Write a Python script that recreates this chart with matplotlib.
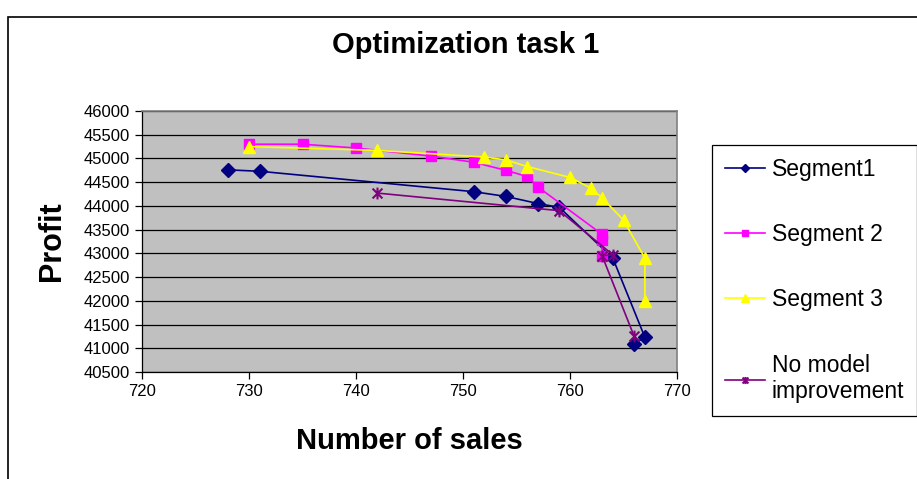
import matplotlib
matplotlib.use("Agg")
import matplotlib.pyplot as plt
from matplotlib.path import Path
from matplotlib.patches import Rectangle
import numpy as np

plt.rcParams["font.family"] = ["Liberation Sans", "DejaVu Sans"]

# data
seg1_x = [728, 731, 751, 754, 757, 759, 764, 767, 766]
seg1_y = [44760, 44730, 44300, 44200, 44050, 43970, 42900, 41230, 41100]

seg2_x = [730, 735, 740, 747, 751, 754, 756, 757, 763, 763, 763]
seg2_y = [45300, 45300, 45220, 45050, 44920, 44750, 44620, 44400, 43400, 43280, 42950]

seg3_x = [730, 742, 752, 754, 756, 760, 762, 763, 765, 767, 767]
seg3_y = [45250, 45170, 45030, 44970, 44830, 44600, 44370, 44170, 43700, 42900, 42000]

nomod_x = [742, 759, 764, 763, 766]
nomod_y = [44270, 43900, 42970, 42950, 41250]

labels = ["Segment1", "Segment 2", "Segment 3", "No model\nimprovement"]
x_ticks = [720, 730, 740, 750, 760, 770]
y_ticks = list(range(40500, 46001, 500))

# excel style star: X plus a vertical bar
star = Path([(-1, -1), (1, 1), (-1, 1), (1, -1), (0, -1.2), (0, 1.2)],
            [Path.MOVETO, Path.LINETO, Path.MOVETO, Path.LINETO, Path.MOVETO, Path.LINETO])

fig = plt.figure(figsize=(9.17, 4.79), dpi=100)
ax = fig.add_axes([142 / 917, 1 - 372 / 479, 535 / 917, 261 / 479])
ax.set_facecolor("#C0C0C0")

l1, = ax.plot(seg1_x, seg1_y, color="#000080", lw=1.2, marker="D", ms=7.5,
              mfc="#000080", mec="#000080")
l2, = ax.plot(seg2_x, seg2_y, color="#FF00FF", lw=1.2, marker="s", ms=7.5,
              mfc="#FF00FF", mec="#FF00FF")
l3, = ax.plot(seg3_x, seg3_y, color="#FFFF00", lw=1.2, marker="^", ms=9,
              mfc="#FFFF00", mec="#FFFF00")
l4, = ax.plot(nomod_x, nomod_y, color="#800080", lw=1.2, marker=star, ms=8.5,
              mfc="none", mec="#800080", mew=1.5)

ax.set_xlim(720, 770)
ax.set_ylim(40500, 46000)
ax.set_xticks(x_ticks)
ax.set_yticks(y_ticks)
ax.yaxis.grid(True, color="black", lw=0.9)
ax.set_axisbelow(True)
ax.tick_params(direction="out", length=5, width=0.9, labelsize=12, colors="black")
for s in ["top", "right"]:
    ax.spines[s].set_color("#808080")
    ax.spines[s].set_linewidth(1.2)
for s in ["left", "bottom"]:
    ax.spines[s].set_color("black")
    ax.spines[s].set_linewidth(0.9)

ax.set_xlabel("Number of sales", fontsize=21, fontweight="bold", labelpad=20)
ax.set_ylabel("Profit", fontsize=22, fontweight="bold", labelpad=12)
fig.text(0.508, 1 - 45 / 479, "Optimization task 1", fontsize=21, fontweight="bold",
         ha="center", va="center")

leg = fig.legend([l1, l2, l3, l4], labels, loc="upper left",
                 bbox_to_anchor=(712 / 917, 1 - 145 / 479), fontsize=16.5,
                 frameon=True, fancybox=False, edgecolor="black", framealpha=1,
                 labelspacing=1.85, handlelength=1.75, handletextpad=0.3,
                 borderpad=0.55, markerscale=0.6, borderaxespad=0)
leg.get_frame().set_linewidth(0.9)

# outer chart border
fig.add_artist(Rectangle((8 / 917, -0.1), 1.2, 1.1 - 17 / 479, transform=fig.transFigure,
                         fill=False, edgecolor="black", lw=1.2))

fig.savefig("out.png", dpi=100)
